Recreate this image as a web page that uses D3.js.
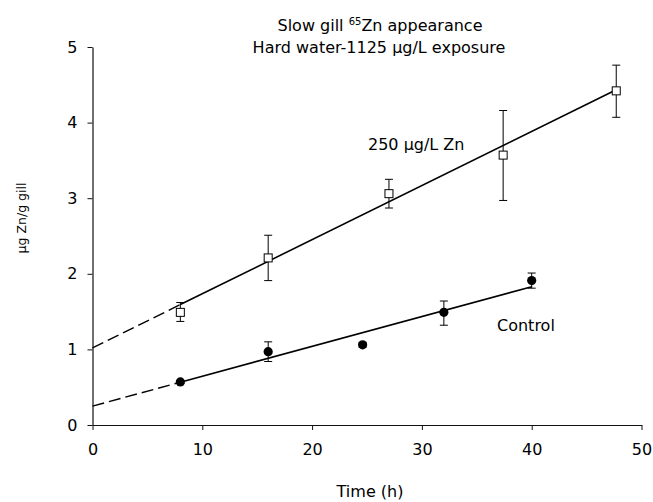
<!DOCTYPE html>
<html>
<head>
<meta charset="utf-8">
<script src="https://cdn.jsdelivr.net/npm/d3@7"></script>
<style>
  html, body { margin: 0; padding: 0; background: #fff; }
  svg { display: block; }
  text { font-family: "DejaVu Sans", sans-serif; fill: #000; }
</style>
</head>
<body>
<svg id="chart" width="653" height="502"></svg>
<script>
// ---- data ----
const xTicks = [0, 10, 20, 30, 40, 50];
const yTicks = [0, 1, 2, 3, 4, 5];

// 250 µg/L Zn series (open squares)
const time250 = [8, 16, 27, 37.4, 47.7];
const zn250 = [1.49, 2.21, 3.06, 3.57, 4.42];
const zn250Lo = [1.37, 1.91, 2.87, 2.97, 4.07];
const zn250Hi = [1.62, 2.51, 3.25, 4.16, 4.76];

// Control series (filled circles)
const timeCtl = [8, 16, 24.6, 32, 40];
const control = [0.57, 0.97, 1.06, 1.49, 1.91];
const controlLo = [0.55, 0.84, 1.03, 1.32, 1.81];
const controlHi = [0.59, 1.10, 1.09, 1.64, 2.01];

// regression fits: [250 µg/L, control]
const fitIntercept = [1.02, 0.25];
const fitSlope = [0.0716, 0.0395];
const fitSolidStart = [8, 8];
const fitEnd = [47.7, 40];

const titleLine1 = ["Slow gill ", "65", "Zn appearance"];
const titleLine2 = "Hard water-1125 \u03bcg/L exposure";
const label250 = "250 \u03bcg/L Zn";
const labelCtl = "Control";
const xTitle = "Time (h)";
const yTitle = "\u03bcg Zn/g gill";

// ---- drawing ----
const svg = d3.select("#chart");
const x = d3.scaleLinear().domain([0, 50]).range([92.5, 641.5]);
const y = d3.scaleLinear().domain([0, 5]).range([425, 47]);

// axes
const xAxis = d3.axisBottom(x).tickValues(xTicks).tickFormat(d3.format("d"))
  .tickSize(5).tickSizeOuter(0).tickPadding(14);
const yAxis = d3.axisLeft(y).tickValues(yTicks).tickFormat(d3.format("d"))
  .tickSize(5).tickSizeOuter(0).tickPadding(10);

const gx = svg.append("g").attr("transform", `translate(0,${y(0)})`).call(xAxis);
const gy = svg.append("g").attr("transform", `translate(${x(0)},0)`).call(yAxis);
[gx, gy].forEach(g => {
  g.select(".domain").attr("stroke", "#111").attr("stroke-width", 1.2);
  g.selectAll(".tick line").attr("stroke", "#111").attr("stroke-width", 1);
  g.selectAll(".tick text").attr("font-family", "DejaVu Sans").attr("font-size", 16).attr("fill", "#000");
});

// regression lines
const lineGen = d3.line().x(d => x(d[0])).y(d => y(d[1]));
fitIntercept.forEach((b, i) => {
  const m = fitSlope[i];
  const dashed = [[0, b], [fitSolidStart[i], b + m * fitSolidStart[i]]];
  const solid = [[fitSolidStart[i], b + m * fitSolidStart[i]], [fitEnd[i], b + m * fitEnd[i]]];
  svg.append("path").attr("d", lineGen(dashed)).attr("fill", "none")
    .attr("stroke", "#000").attr("stroke-width", 1.4).attr("stroke-dasharray", "12,5");
  svg.append("path").attr("d", lineGen(solid)).attr("fill", "none")
    .attr("stroke", "#000").attr("stroke-width", 1.6);
});

// error bars
function errorBars(xs, lo, hi) {
  const g = svg.append("g").attr("stroke", "#000").attr("stroke-width", 1);
  xs.forEach((t, i) => {
    const cx = x(t);
    g.append("line").attr("x1", cx).attr("x2", cx).attr("y1", y(lo[i])).attr("y2", y(hi[i]));
    g.append("line").attr("x1", cx - 4).attr("x2", cx + 4).attr("y1", y(lo[i])).attr("y2", y(lo[i]));
    g.append("line").attr("x1", cx - 4).attr("x2", cx + 4).attr("y1", y(hi[i])).attr("y2", y(hi[i]));
  });
}
errorBars(time250, zn250Lo, zn250Hi);
errorBars(timeCtl, controlLo, controlHi);

// markers
svg.append("g").selectAll("rect").data(time250).join("rect")
  .attr("x", (d) => x(d) - 4).attr("y", (d, i) => y(zn250[i]) - 4)
  .attr("width", 8).attr("height", 8)
  .attr("fill", "#fff").attr("stroke", "#000").attr("stroke-width", 1);

svg.append("g").selectAll("circle").data(timeCtl).join("circle")
  .attr("cx", d => x(d)).attr("cy", (d, i) => y(control[i])).attr("r", 4.6)
  .attr("fill", "#000");

// title
const t1 = svg.append("text").attr("x", 380).attr("y", 31).attr("text-anchor", "middle").attr("font-size", 16);
t1.append("tspan").text(titleLine1[0]);
t1.append("tspan").attr("font-size", 10).attr("dy", -6).text(titleLine1[1]);
t1.append("tspan").attr("dy", 6).text(titleLine1[2]);
svg.append("text").attr("x", 379).attr("y", 52.5).attr("text-anchor", "middle").attr("font-size", 16).text(titleLine2);

// series labels
svg.append("text").attr("x", 368).attr("y", 150).attr("font-size", 16).text(label250);
svg.append("text").attr("x", 497).attr("y", 331).attr("font-size", 16).text(labelCtl);

// axis titles
svg.append("text").attr("x", 370).attr("y", 497).attr("text-anchor", "middle").attr("font-size", 16).text(xTitle);
svg.append("text").attr("transform", "translate(26,218) rotate(-90)").attr("text-anchor", "middle")
  .attr("font-size", 12.5).text(yTitle);
</script>
</body>
</html>
